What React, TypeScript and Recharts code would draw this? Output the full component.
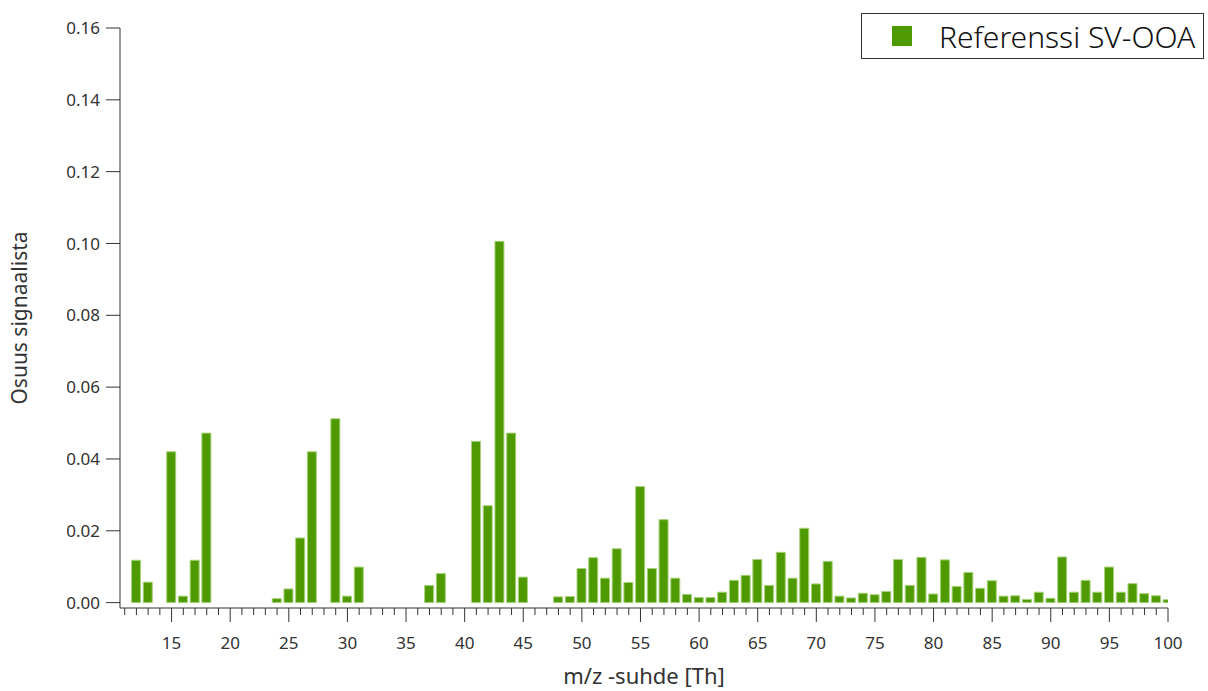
import { BarChart, Bar, XAxis, YAxis, Legend } from 'recharts';

// m/z values that have a signal, and the fraction of signal at each
const mzValues = [
  12, 13, 15, 16, 17, 18, 24, 25, 26, 27, 29, 30, 31, 37, 38, 41, 42, 43, 44, 45,
  48, 49, 50, 51, 52, 53, 54, 55, 56, 57, 58, 59, 60, 61, 62, 63, 64, 65, 66, 67,
  68, 69, 70, 71, 72, 73, 74, 75, 76, 77, 78, 79, 80, 81, 82, 83, 84, 85, 86, 87,
  88, 89, 90, 91, 92, 93, 94, 95, 96, 97, 98, 99, 100,
];
const svOoa = [
  0.0118, 0.0057, 0.042, 0.0018, 0.0118, 0.0472, 0.0011, 0.0038, 0.018, 0.042, 0.0512, 0.0018, 0.0099, 0.0048, 0.0081, 0.0449, 0.027, 0.1006, 0.0472, 0.0071,
  0.0016, 0.0017, 0.0095, 0.0125, 0.0068, 0.015, 0.0056, 0.0323, 0.0095, 0.0231, 0.0068, 0.0023, 0.0014, 0.0014, 0.0029, 0.0062, 0.0076, 0.012, 0.0048, 0.014,
  0.0068, 0.0207, 0.0052, 0.0115, 0.0018, 0.0013, 0.0026, 0.0022, 0.0031, 0.012, 0.0048, 0.0126, 0.0024, 0.0119, 0.0045, 0.0084, 0.004, 0.0061, 0.0018, 0.0019,
  0.0009, 0.0029, 0.0012, 0.0127, 0.0029, 0.0062, 0.0029, 0.0099, 0.0029, 0.0053, 0.0025, 0.0019, 0.0008,
];
const xTicks = Array.from({ length: 90 }, (_, i) => 11 + i);
const yTicks = [0, 0.02, 0.04, 0.06, 0.08, 0.1, 0.12, 0.14, 0.16];

const seriesName = 'Referenssi SV-OOA';
const barColor = '#4e9a00';
const axisColor = '#333';
const font = '"Noto Sans", "Open Sans", sans-serif';

const data = mzValues.map((mz, i) => ({ mz, value: svOoa[i] }));

function XTick(props: any) {
  const { x, y, payload } = props;
  const major = payload.value % 5 === 0;
  return (
    <g>
      <line x1={x} x2={x} y1={y} y2={y + (major ? 14 : 7)} stroke={axisColor} strokeWidth={1} />
      {major && (
        <text x={x} y={y + 41} textAnchor="middle" fontSize={17} fill={axisColor} fontFamily={font}>
          {payload.value}
        </text>
      )}
    </g>
  );
}

function LegendBox() {
  return (
    <div
      style={{
        width: 341,
        height: 44,
        border: `1px solid ${axisColor}`,
        display: 'flex',
        alignItems: 'center',
        background: '#fff',
        fontFamily: font,
      }}
    >
      <div style={{ width: 20, height: 20, background: barColor, marginLeft: 30 }} />
      <span style={{ marginLeft: 27, fontSize: 30, fontWeight: 300, color: '#111', whiteSpace: 'nowrap' }}>{seriesName}</span>
    </div>
  );
}

export default function App() {
  return (
    <div style={{ position: 'absolute', left: 0, top: 0, background: '#fff' }}>
      <BarChart width={1208} height={691} data={data} margin={{ top: 28, right: 40, left: 0, bottom: 0 }}>
        <XAxis
          dataKey="mz"
          type="number"
          domain={[10.6, 100]}
          allowDataOverflow
          ticks={xTicks}
          interval={0}
          tickSize={0}
          tickMargin={0}
          tickLine={false}
          tick={<XTick />}
          height={83}
          stroke={axisColor}
          label={{ value: 'm/z -suhde [Th]', position: 'insideBottom', offset: 7, fontSize: 22, fill: axisColor, fontFamily: font }}
        />
        <YAxis
          domain={[-0.0015, 0.16]}
          allowDataOverflow
          ticks={yTicks}
          interval={0}
          width={120}
          tickSize={14}
          tickMargin={6}
          stroke={axisColor}
          tickFormatter={(v: number) => v.toFixed(2)}
          tick={{ fontSize: 17, fill: axisColor, fontFamily: font }}
          label={{ value: 'Osuus signaalista', angle: -90, position: 'insideLeft', offset: 20, fontSize: 21, fill: axisColor, fontFamily: font, style: { textAnchor: 'middle' } }}
        />
        <Legend
          layout="vertical"
          verticalAlign="middle"
          align="center"
          content={<LegendBox />}
          wrapperStyle={{ top: 13, left: 861, width: 343 }}
        />
        <Bar dataKey="value" name={seriesName} fill={barColor} stroke="#a6d27a" strokeWidth={1} barSize={9} isAnimationActive={false} />
      </BarChart>
    </div>
  );
}
